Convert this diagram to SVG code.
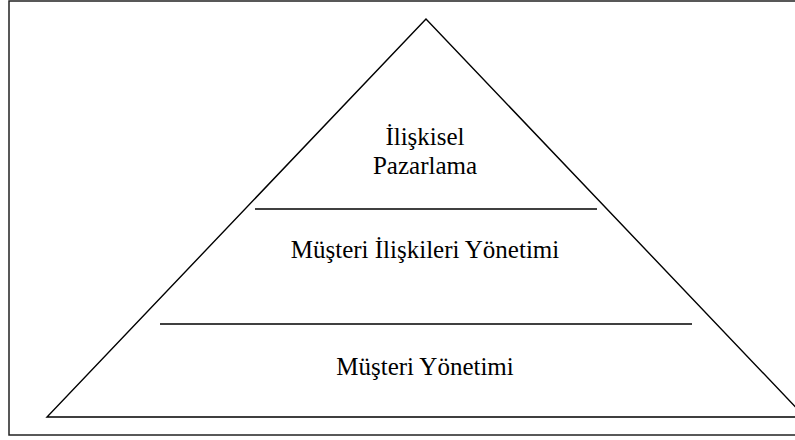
<svg xmlns="http://www.w3.org/2000/svg" width="795" height="440" viewBox="0 0 795 440">
<style>
.frame{fill:none;stroke:#222;stroke-width:1.5}
.edge{fill:none;stroke:#000;stroke-width:1.4}
.lbl{font-family:"Liberation Serif","Times New Roman",serif;font-size:25px;fill:#000;text-anchor:middle}
</style>
<rect width="795" height="440" fill="#fff"/>
<rect class="frame" x="9" y="1" width="840" height="434"/>
<g id="pyramid">
<polygon class="edge" points="426,19 47,417 805,417"/>
</g>
<g id="connectors">
<line class="edge" x1="255" y1="209" x2="597" y2="209"/>
<line class="edge" x1="160" y1="324" x2="692" y2="324"/>
</g>
<g id="top">
<text class="lbl" x="425" y="145">İlişkisel</text>
<text class="lbl" x="425" y="174">Pazarlama</text>
</g>
<g id="middle">
<text class="lbl" x="425" y="258">Müşteri İlişkileri Yönetimi</text>
</g>
<g id="bottom">
<text class="lbl" x="425" y="375">Müşteri Yönetimi</text>
</g>
</svg>
